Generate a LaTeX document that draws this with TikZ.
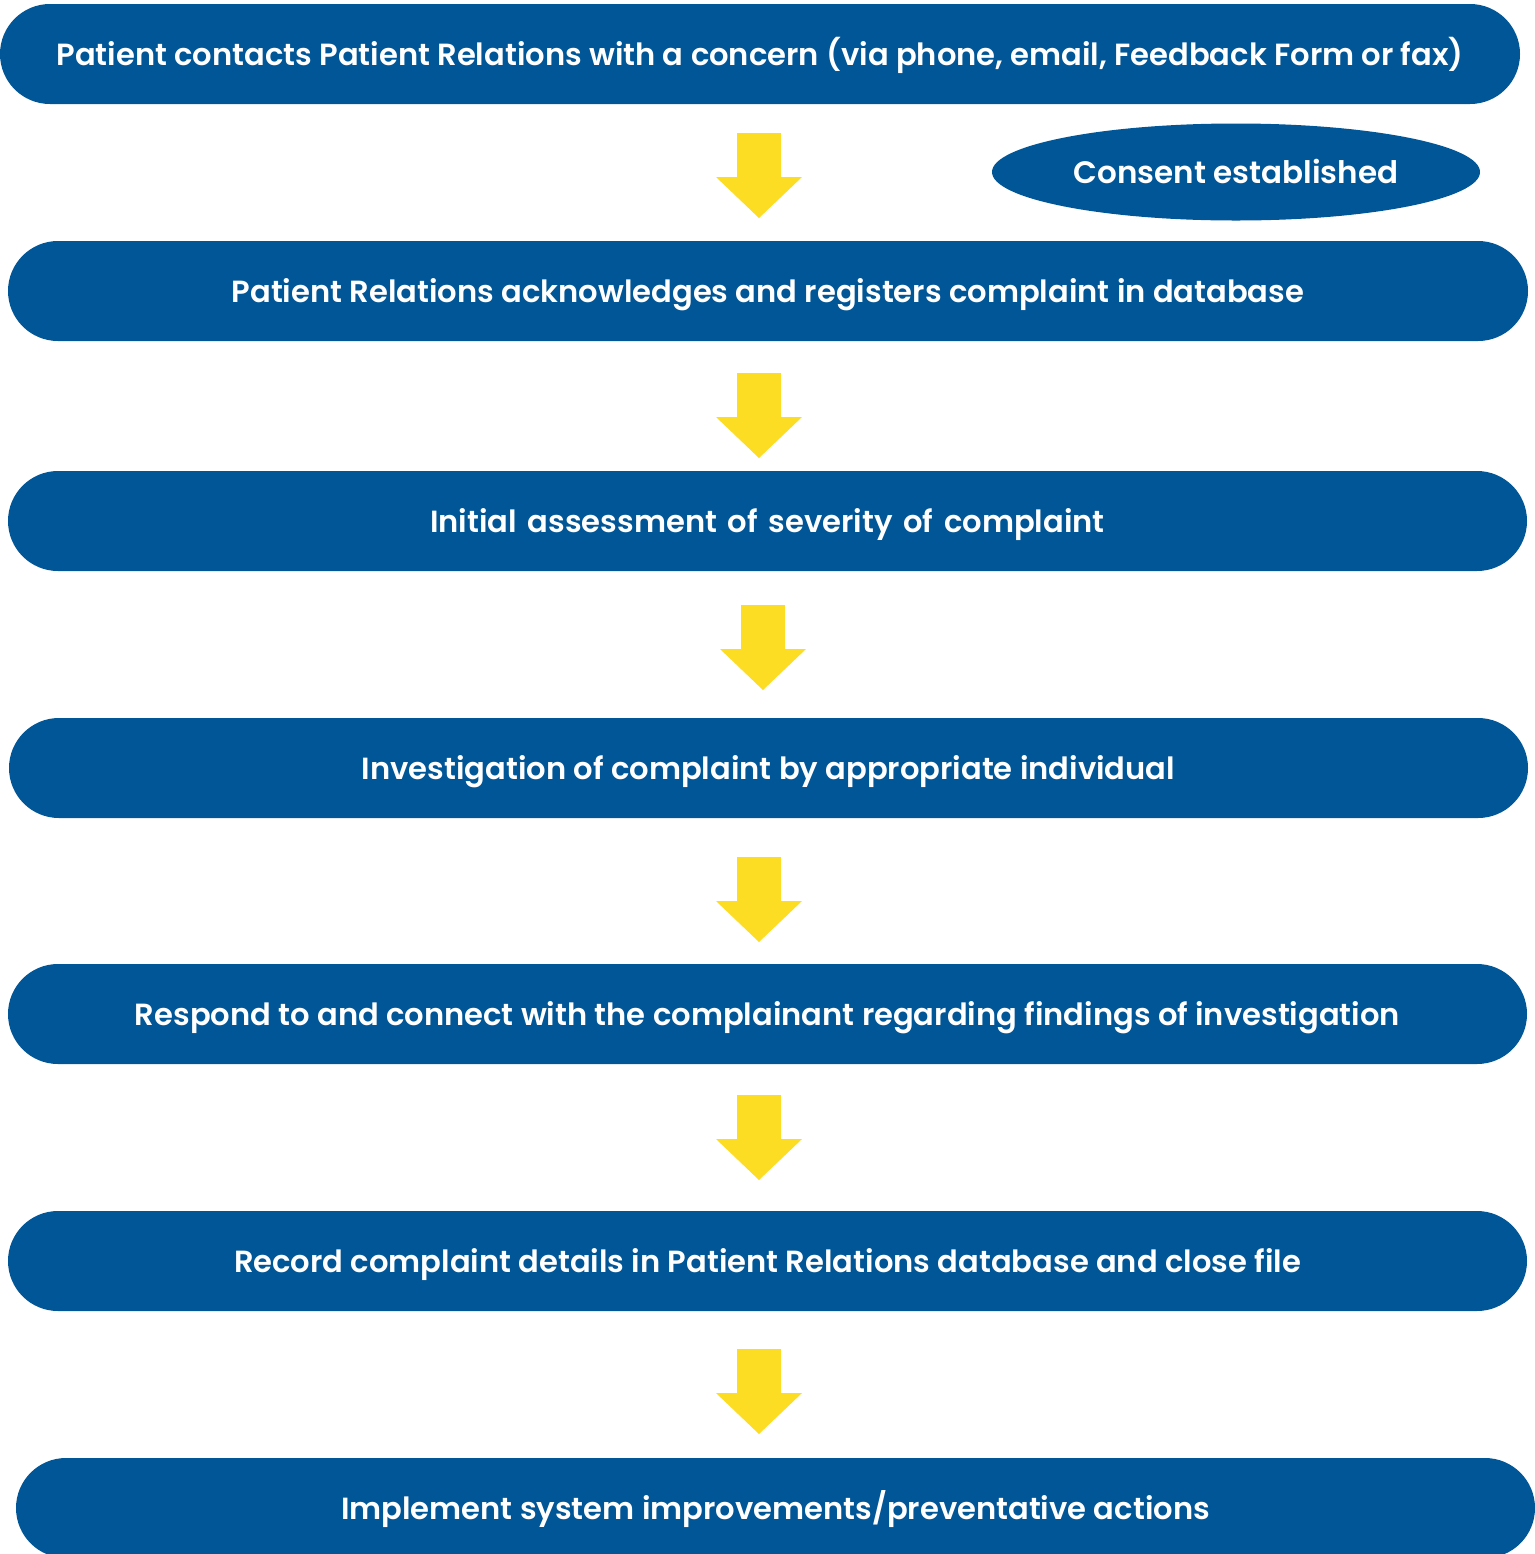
\documentclass[tikz,border=0pt]{standalone}
\usepackage{fontspec}
\setmainfont{Poppins}[BoldFont={Poppins SemiBold}]
\usetikzlibrary{shapes.geometric}
\definecolor{boxblue}{RGB}{0,86,150}
\definecolor{arrowyellow}{RGB}{252,221,36}
\tikzset{
  stepbox/.style={fill=boxblue, draw=none, rounded corners=25pt, minimum height=50pt, inner sep=0pt, text height=11.4pt, text depth=0pt, text=white, font=\fontsize{15.3}{17}\selectfont\bfseries},
  consent/.style={ellipse, fill=boxblue, draw=none, minimum width=244pt, minimum height=48.5pt, inner sep=0pt, text height=11pt, text depth=0pt, text=white, font=\fontsize{15.5}{17}\selectfont\bfseries},
}
\newcommand{\flowarrow}[2]{%
  \fill[arrowyellow] (#1-22,#2) -- (#1+22,#2) -- (#1+22,#2+44) -- (#1+43,#2+44) -- (#1,#2+85) -- (#1-43,#2+44) -- (#1-22,#2+44) -- cycle;}
\begin{document}
\begin{tikzpicture}[x=0.5pt,y=-0.5pt]
\useasboundingbox (0,0) rectangle (1535,1554);
\node[stepbox, minimum width=760pt] (s1) at (760,54) {Patient contacts Patient Relations with a concern (via phone, email, Feedback Form or fax)};
\node[consent] (c) at (1236,172) {Consent established};
\node[stepbox, minimum width=760pt] (s2) at (768,291) {Patient Relations acknowledges and registers complaint in database};
\node[stepbox, minimum width=759.5pt] (s3) at (767.5,521) {Initial\hspace{0.35em}assessment\hspace{0.35em}of\hspace{0.35em}severity\hspace{0.35em}of\hspace{0.35em}complaint};
\node[stepbox, minimum width=759.5pt] (s4) at (768.5,768) {Investigation of complaint by appropriate individual};
\node[stepbox, minimum width=759.5pt] (s5) at (767.5,1014) {Respond to and connect with the complainant regarding findings of investigation};
\node[stepbox, minimum width=759.5pt] (s6) at (767.5,1261) {Record complaint details in Patient Relations database and close file};
\node[stepbox, minimum width=759.5pt] (s7) at (775.5,1508) {Implement system improvements/preventative actions};
\flowarrow{759}{133}
\flowarrow{759}{373}
\flowarrow{763}{605}
\flowarrow{759}{857}
\flowarrow{759}{1095}
\flowarrow{759}{1349}
\end{tikzpicture}
\end{document}
